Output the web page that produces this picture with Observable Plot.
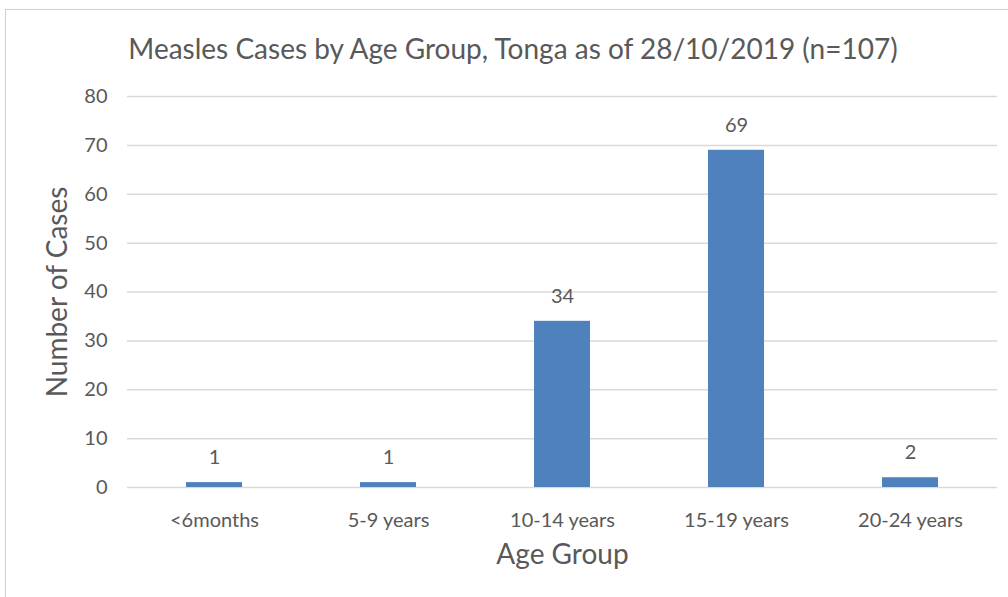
<!DOCTYPE html>
<html>
<head>
<meta charset="utf-8">
<script src="https://cdn.jsdelivr.net/npm/d3@7"></script>
<script src="https://cdn.jsdelivr.net/npm/@observablehq/plot@0.6"></script>
<style>
  html, body { margin: 0; padding: 0; background: #fff; }
  #wrap { position: relative; width: 1008px; height: 597px; overflow: hidden; font-family: Lato, "Open Sans", sans-serif; }
  #frame { position: absolute; left: 5px; top: 9px; right: -2px; bottom: -2px; border-top: 1.5px solid #d0d0d0; border-left: 1.5px solid #d0d0d0; }
  #title { position: absolute; left: 0; top: 0; width: 1008px; height: 80px; line-height: 96px; text-align: center; font-size: 28px; color: #595959; padding-left: 18px; box-sizing: border-box; }
  #chart { position: absolute; left: 0; top: 80px; }
</style>
</head>
<body>
<div id="wrap">
  <div id="frame"></div>
  <div id="title">Measles Cases by Age Group, Tonga as of 28/10/2019 (n=107)</div>
  <div id="chart"></div>
</div>
<script>
const ageGroups = ["<6months", "5-9 years", "10-14 years", "15-19 years", "20-24 years"];
const cases = [1, 1, 34, 69, 2];
const yTicks = [0, 10, 20, 30, 40, 50, 60, 70, 80];
const xTitle = "Age Group";
const yTitle = "Number of Cases";

const data = ageGroups.map((g, i) => ({group: g, value: cases[i]}));
const textColor = "#595959";

const plot = Plot.plot({
  width: 1008,
  height: 517,
  marginTop: 16,
  marginBottom: 110,
  marginLeft: 127,
  marginRight: 11,
  style: {fontFamily: "Lato, 'Open Sans', sans-serif", fontSize: "20px", color: textColor, background: "transparent"},
  x: {domain: ageGroups, paddingInner: 0.68, paddingOuter: 0.34, label: null},
  y: {domain: [0, 80], label: null},
  marks: [
    Plot.ruleY(yTicks, {stroke: "#d9d9d9", strokeWidth: 1.5}),
    Plot.barY(data, {x: "group", y: "value", fill: "#4f81bd"}),
    Plot.text(data, {x: "group", y: "value", text: d => String(d.value), dy: -25, fill: textColor, fontSize: 20}),
    Plot.axisY(yTicks, {tickSize: 0, tickPadding: 20, fontSize: 20, fill: textColor, label: null}),
    Plot.axisX({tickSize: 0, tickPadding: 25, fontSize: 20, fill: textColor, label: null}),
    Plot.text([xTitle], {frameAnchor: "bottom", dy: 76, fontSize: 28, fill: textColor}),
    Plot.text([yTitle], {frameAnchor: "left", dx: -69, rotate: -90, textAnchor: "middle", fontSize: 28, fill: textColor})
  ]
});
document.getElementById("chart").appendChild(plot);
</script>
</body>
</html>
